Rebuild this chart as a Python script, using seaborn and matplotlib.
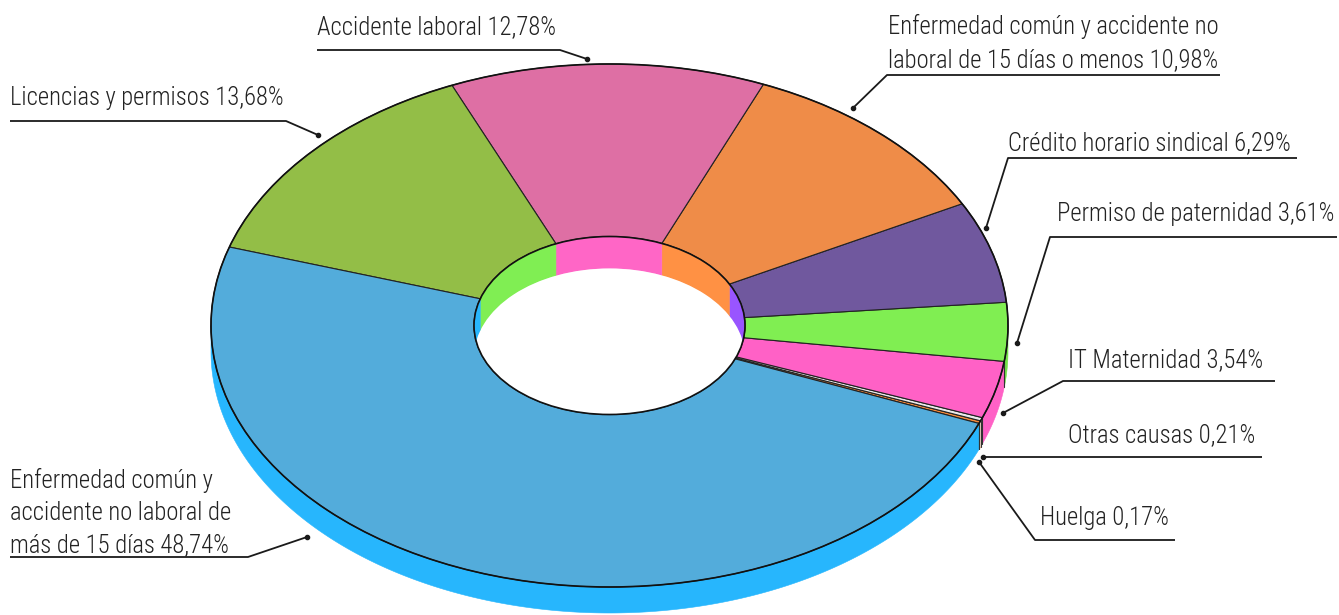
import numpy as np
import matplotlib
matplotlib.use("Agg")
import matplotlib.pyplot as plt
import seaborn as sns
from matplotlib.patches import Polygon, Ellipse
from matplotlib import font_manager as fm

# ---------------- data ----------------
categories = [
    "Huelga",
    "Otras causas",
    "IT Maternidad",
    "Permiso de paternidad",
    "Crédito horario sindical",
    "Enfermedad común y accidente no laboral de 15 días o menos",
    "Accidente laboral",
    "Licencias y permisos",
    "Enfermedad común y accidente no laboral de más de 15 días",
]
values = [0.17, 0.21, 3.54, 3.61, 6.29, 10.98, 12.78, 13.68, 48.74]
label_lines = [
    ["Huelga 0,17%"],
    ["Otras causas 0,21%"],
    ["IT Maternidad 3,54%"],
    ["Permiso de paternidad 3,61%"],
    ["Crédito horario sindical 6,29%"],
    ["Enfermedad común y accidente no", "laboral de 15 días o menos 10,98%"],
    ["Accidente laboral 12,78%"],
    ["Licencias y permisos 13,68%"],
    ["Enfermedad común y", "accidente no laboral de", "más de 15 días 48,74%"],
]
top_colors = ["#F58A3A", "#EBEBEB", "#FF61C6", "#80EE52", "#70589E",
              "#EF8C48", "#DE6FA4", "#93BE47", "#53ACDB"]
side_colors = ["#FF8C3A", "#F2F2F2", "#FF61C6", "#74E048", "#9955FF",
               "#FF9144", "#FF66C6", "#80EE53", "#27B6FD"]

# ---------------- layout ----------------
W, H = 1339, 615
CX, CY = 609.5, 325.5
RX, RY, D = 398.5, 261.5, 26
RXI, RYI, DI = 135.5, 89.0, 32
START = -22.0

# label layout: text x, baselines, leader polyline (last point = dot)
label_layout = [
    (1040, [525], [(1175, 540), (1035, 540), (979, 462)]),
    (1068, [442], [(1262, 457), (983, 457)]),
    (1068, [367], [(1275, 381), (1063, 381), (1003, 413)]),
    (1057, [221], [(1337, 237), (1050, 237), (1017, 343)]),
    (1008, [150], [(1297, 158), (1008, 158), (986, 228)]),
    (888, [34, 67], [(1220, 75), (887, 75), (853, 108)]),
    (317, [34], [(317, 50), (560, 50), (587, 59)]),
    (10, [105], [(10, 121), (286, 121), (318, 135)]),
    (10, [488, 520, 552], [(10, 557), (248, 557), (307, 537)]),
]

sns.set_theme(style="white")
top_pal = sns.color_palette(top_colors)
side_pal = sns.color_palette(side_colors)


def pick_font():
    entries = fm.fontManager.ttflist

    def wnum(w):
        if isinstance(w, str):
            return fm.weight_dict.get(w, 400)
        return w

    def find(pred):
        good = [f for f in entries if pred(f)]
        if not good:
            return None
        good.sort(key=lambda f: abs(wnum(f.weight) - 300) + (0 if f.style == "normal" else 1000))
        return good[0].fname

    tests = [
        lambda f: f.name == "Roboto Condensed",
        lambda f: f.name in ("Open Sans Condensed", "Noto Sans Condensed"),
        lambda f: f.name in ("Noto Sans", "Open Sans", "Roboto") and f.stretch in ("condensed", "semi-condensed"),
        lambda f: f.name == "Liberation Sans Narrow",
        lambda f: f.name == "DejaVu Sans" and f.stretch == "condensed",
        lambda f: f.name == "Roboto",
        lambda f: f.name == "Lato",
    ]
    for t in tests:
        p = find(t)
        if p:
            return p
    return None


fig = plt.figure(figsize=(W / 100, H / 100), dpi=100)
ax = fig.add_axes([0, 0, 1, 1])
ax.set_xlim(0, W)
ax.set_ylim(H, 0)
ax.axis("off")

fpath = pick_font()
fp = fm.FontProperties(fname=fpath) if fpath else fm.FontProperties(family="DejaVu Sans")

# scale the font so a reference label has the reference width (~240 px)
probe = ax.text(0, 0, "Accidente laboral 12,78%", fontproperties=fp, fontsize=18)
fig.canvas.draw()
wpx = probe.get_window_extent(renderer=fig.canvas.get_renderer()).width
probe.remove()
fsize = min(18.5, 18 * 240.0 / wpx)


def arc(rx, ry, a, b, dy=0.0):
    n = max(2, int(abs(b - a) * 2) + 2)
    t = np.radians(np.linspace(a, b, n))
    return np.column_stack([CX + rx * np.cos(t), CY - ry * np.sin(t) + dy])


vals = np.array(values, dtype=float)
spans = vals / vals.sum() * 360.0
bounds = START + np.concatenate([[0], np.cumsum(spans)])

# outer side (front half)
for i in range(len(vals)):
    a1, a2 = bounds[i], bounds[i + 1]
    for lo, hi in [(-180, 0), (180, 360)]:
        a, b = max(a1, lo), min(a2, hi)
        if b > a:
            poly = np.vstack([arc(RX, RY, a, b), arc(RX, RY, b, a, dy=D)])
            ax.add_patch(Polygon(poly, closed=True, fc=side_pal[i], ec=side_pal[i], lw=0.4, zorder=1))

for ang in bounds:
    if np.sin(np.radians(ang)) < 0:
        x = CX + RX * np.cos(np.radians(ang))
        y = CY - RY * np.sin(np.radians(ang))
        ax.plot([x, x], [y, y + D], color="#333333", lw=0.8, zorder=1.5)

# top faces
for i in range(len(vals)):
    a1, a2 = bounds[i], bounds[i + 1]
    poly = np.vstack([arc(RX, RY, a1, a2), arc(RXI, RYI, a2, a1)])
    ax.add_patch(Polygon(poly, closed=True, fc=top_pal[i], ec="#222222", lw=0.8, zorder=2))

ax.add_patch(Ellipse((CX, CY), 2 * RX, 2 * RY, fill=False, ec="#111111", lw=1.2, zorder=3))

# inner walls (back half), clipped by the hole
clip_e = Ellipse((CX, CY), 2 * RXI, 2 * RYI, transform=ax.transData)
for i in range(len(vals)):
    a1, a2 = bounds[i], bounds[i + 1]
    a, b = max(a1, 0), min(a2, 180)
    if b > a:
        poly = np.vstack([arc(RXI, RYI, a, b), arc(RXI, RYI, b, a, dy=DI)])
        pg = Polygon(poly, closed=True, fc=side_pal[i], ec=side_pal[i], lw=0.4, zorder=4)
        ax.add_patch(pg)
        pg.set_clip_path(clip_e)

floor = Ellipse((CX, CY + DI), 2 * RXI, 2 * RYI, fc="white", ec="none", zorder=5)
ax.add_patch(floor)
floor.set_clip_path(clip_e)
ax.add_patch(Ellipse((CX, CY), 2 * RXI, 2 * RYI, fill=False, ec="#111111", lw=1.2, zorder=6))

# labels + leaders
for i, (tx, bases, path) in enumerate(label_layout):
    for line, by in zip(label_lines[i], bases):
        ax.text(tx, by, line, fontproperties=fp, fontsize=fsize, color="#222222",
                ha="left", va="baseline", zorder=10)
    xs = [p[0] for p in path]
    ys = [p[1] for p in path]
    ax.plot(xs, ys, color="#1a1a1a", lw=1.3, zorder=9, solid_capstyle="butt")
    ax.plot([xs[-1]], [ys[-1]], "o", color="#1a1a1a", ms=3, zorder=9)

fig.savefig("out.png", dpi=100, facecolor="white")
